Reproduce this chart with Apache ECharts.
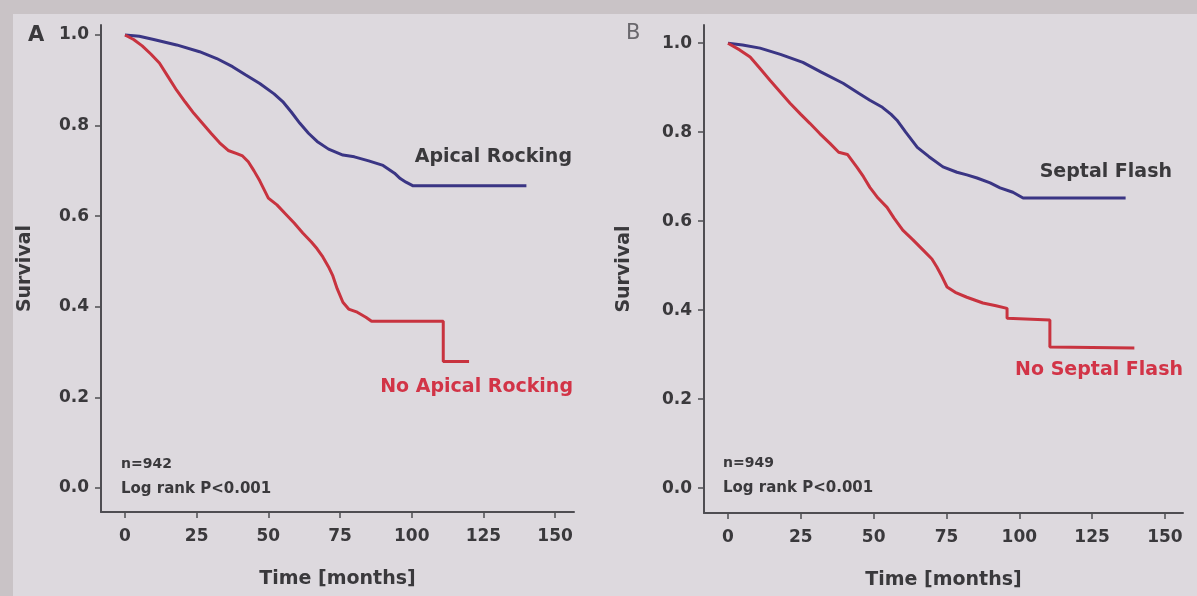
<!DOCTYPE html>
<html>
<head>
<meta charset="utf-8">
<script src="https://cdn.jsdelivr.net/npm/echarts@6/dist/echarts.min.js"></script>
<style>
  html, body { margin: 0; padding: 0; background: #c8c2c5; }
  #chart { width: 1197px; height: 596px; }
</style>
</head>
<body>
<div id="chart"></div>
<script>
// ---- Data ----
const xTickValues = [0, 25, 50, 75, 100, 125, 150];
const yTickValues = [0, 0.2, 0.4, 0.6, 0.8, 1.0];

// Panel A: Apical Rocking
const timeApical = [0, 5, 10, 18, 26, 32, 37.5, 42, 47, 52, 55, 58, 61, 64, 67, 71, 76, 80, 85, 90, 94, 96, 98, 100.5, 140];
const survApical = [1.0, 0.997, 0.99, 0.978, 0.963, 0.948, 0.93, 0.912, 0.893, 0.87, 0.853, 0.83, 0.805, 0.783, 0.765, 0.748, 0.735, 0.731, 0.722, 0.712, 0.695, 0.683, 0.675, 0.667, 0.667];

// Panel A: No Apical Rocking
const timeNoApical = [0, 3, 6, 9, 12, 15, 18, 21, 24, 27, 30, 33, 36, 39, 41, 43, 45, 47, 50, 53, 56, 59, 62, 65, 67, 69, 71, 72.5, 74, 76, 78, 81, 84, 86, 111, 111, 120];
const survNoApical = [1.0, 0.99, 0.976, 0.958, 0.938, 0.908, 0.878, 0.852, 0.827, 0.805, 0.783, 0.762, 0.745, 0.738, 0.733, 0.72, 0.7, 0.678, 0.64, 0.625, 0.605, 0.585, 0.563, 0.543, 0.528, 0.51, 0.488, 0.468, 0.44, 0.41, 0.395, 0.388, 0.377, 0.368, 0.368, 0.279, 0.279];

// Panel B: Septal Flash
const timeSeptal = [0, 5, 11, 18, 25.7, 32, 39.5, 45, 48.7, 53, 56, 58, 61, 65, 69, 73.8, 78.6, 82, 85.5, 90, 93.4, 97.8, 101.3, 136.5];
const survSeptal = [1.0, 0.996, 0.989, 0.975, 0.957, 0.935, 0.91, 0.887, 0.872, 0.856, 0.84, 0.827, 0.8, 0.766, 0.745, 0.722, 0.71, 0.704, 0.697, 0.686, 0.675, 0.665, 0.652, 0.652];

// Panel B: No Septal Flash
const timeNoSeptal = [0, 4, 7.6, 11, 14.4, 18, 21.3, 25, 28.1, 31.5, 35, 38, 41, 44.3, 46.5, 48.7, 51.5, 54.6, 57, 60, 63.5, 67, 70, 71.7, 73.5, 75.2, 78, 82, 87.5, 92, 95.8, 95.8, 110.5, 110.5, 139.5];
const survNoSeptal = [1.0, 0.985, 0.969, 0.943, 0.917, 0.89, 0.865, 0.84, 0.82, 0.797, 0.775, 0.755, 0.75, 0.721, 0.7, 0.676, 0.652, 0.631, 0.607, 0.58, 0.558, 0.535, 0.515, 0.497, 0.475, 0.452, 0.44, 0.429, 0.416, 0.41, 0.404, 0.382, 0.378, 0.317, 0.315];

const pair = (xs, ys) => xs.map((x, i) => [x, ys[i]]);

// ---- Styles ----
const FONT = 'DejaVu Sans';
const TXT = '#3a393c';
const AXIS = '#4e4d52';
const BLUE = '#3a3584';
const RED = '#c8333f';
const RED_TXT = '#d23447';

function xAxisCfg(grid, min, max) {
  return {
    type: 'value', gridIndex: grid, min: min, max: max,
    name: 'Time [months]', nameLocation: 'middle', nameGap: 58,
    nameTextStyle: { fontFamily: FONT, fontWeight: 'bold', fontSize: 19, color: TXT },
    axisLine: { show: true, onZero: false, lineStyle: { color: AXIS, width: 2 } },
    axisTick: { show: true, customValues: xTickValues, length: 6, lineStyle: { color: AXIS, width: 1.5 } },
    axisLabel: { customValues: xTickValues, margin: 16, fontFamily: FONT, fontWeight: 'bold', fontSize: 17, color: TXT },
    splitLine: { show: false }
  };
}
function yAxisCfg(grid, min, max, gap) {
  return {
    type: 'value', gridIndex: grid, min: min, max: max,
    name: 'Survival', nameLocation: 'middle', nameGap: gap, nameRotate: 90,
    nameTextStyle: { fontFamily: FONT, fontWeight: 'bold', fontSize: 19, color: TXT },
    axisLine: { show: true, onZero: false, lineStyle: { color: AXIS, width: 2 } },
    axisTick: { show: true, customValues: yTickValues, length: 6, lineStyle: { color: AXIS, width: 1.5 } },
    axisLabel: { customValues: yTickValues, margin: 12, fontFamily: FONT, fontWeight: 'bold', fontSize: 17, color: TXT,
      formatter: v => v.toFixed(1) },
    splitLine: { show: false }
  };
}
function lineSeries(name, data, xi, color) {
  return {
    name: name, type: 'line', xAxisIndex: xi, yAxisIndex: xi, data: data,
    showSymbol: false, symbol: 'none', smooth: false, animation: false,
    lineStyle: { color: color, width: 3 }, z: 3
  };
}
function txt(x, y, text, opts) {
  return Object.assign({
    type: 'text', x: x, y: y, z: 10,
    style: Object.assign({ text: text, fontFamily: FONT, fontWeight: 'bold', fontSize: 15, fill: TXT,
      textAlign: 'left', textVerticalAlign: 'middle' }, opts || {})
  });
}

const chart = echarts.init(document.getElementById('chart'), null, { renderer: 'canvas' });
chart.setOption({
  backgroundColor: '#c9c3c6',
  animation: false,
  grid: [
    { left: 101, top: 25, width: 473, height: 487 },
    { left: 704, top: 25, width: 479, height: 488 }
  ],
  xAxis: [ xAxisCfg(0, -8.37, 156.6), xAxisCfg(1, -8.24, 156.2) ],
  yAxis: [ yAxisCfg(0, -0.053, 1.022, 66), yAxisCfg(1, -0.056, 1.041, 70) ],
  series: [
    lineSeries('Apical Rocking', pair(timeApical, survApical), 0, BLUE),
    lineSeries('No Apical Rocking', pair(timeNoApical, survNoApical), 0, RED),
    lineSeries('Septal Flash', pair(timeSeptal, survSeptal), 1, BLUE),
    lineSeries('No Septal Flash', pair(timeNoSeptal, survNoSeptal), 1, RED)
  ],
  graphic: [
    { type: 'rect', z: -10, shape: { x: 13, y: 14, width: 1184, height: 582 }, style: { fill: '#ddd9de' } },
    txt(28, 36, 'A', { fontSize: 21 }),
    txt(626, 34, 'B', { fontSize: 21, fontWeight: 'normal', fill: '#6a686d' }),
    txt(572, 157, 'Apical Rocking', { fontSize: 19, textAlign: 'right' }),
    txt(573, 387, 'No Apical Rocking', { fontSize: 19, textAlign: 'right', fill: RED_TXT }),
    txt(1172, 172, 'Septal Flash', { fontSize: 19, textAlign: 'right' }),
    txt(1183, 370, 'No Septal Flash', { fontSize: 19, textAlign: 'right', fill: RED_TXT }),
    txt(121, 464, 'n=942', { fontSize: 14 }),
    txt(121, 489, 'Log rank P<0.001', { fontSize: 15 }),
    txt(723, 463, 'n=949', { fontSize: 14 }),
    txt(723, 488, 'Log rank P<0.001', { fontSize: 15 })
  ]
});
</script>
</body>
</html>
